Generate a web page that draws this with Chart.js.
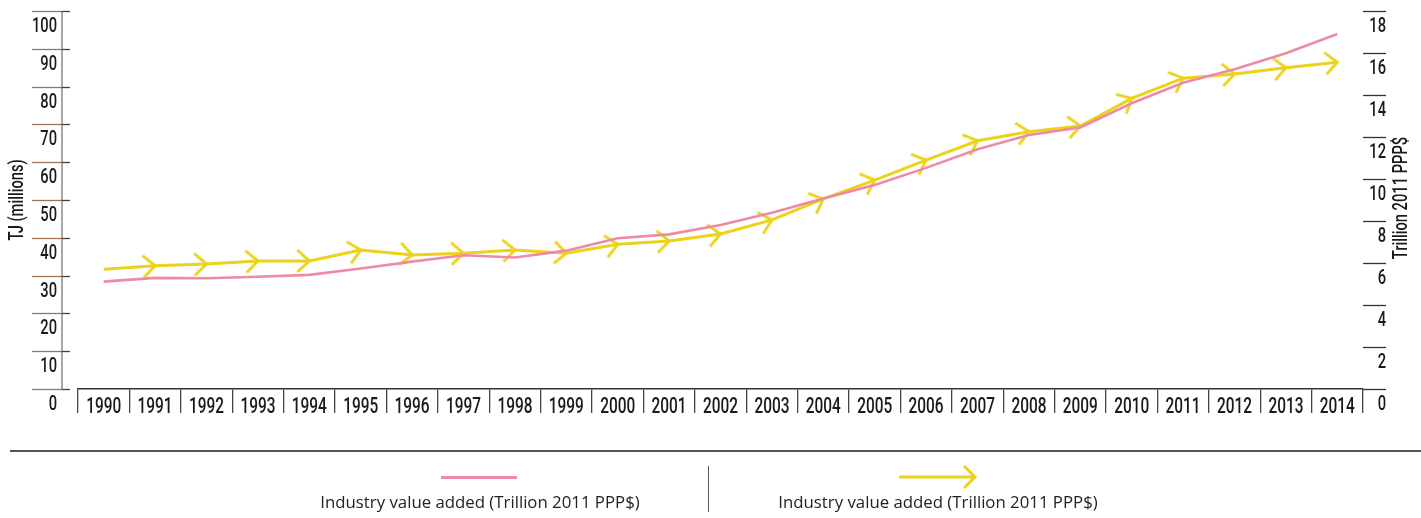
<!DOCTYPE html>
<html>
<head>
<meta charset="utf-8">
<script src="https://cdn.jsdelivr.net/npm/chart.js@4/dist/chart.umd.min.js"></script>
<style>
  html, body { margin: 0; padding: 0; background: #fff; }
  #wrap { position: relative; width: 1421px; height: 518px; overflow: hidden; }
  #c { position: absolute; left: 0; top: 0; }
  .lg-text { position: absolute; font-family: 'Open Sans', 'Noto Sans', sans-serif; font-size: 16.8px; line-height: 16.8px; color: #222; white-space: nowrap; transform: translateX(-50%); }
  #sep { position: absolute; left: 10px; top: 450px; width: 1411px; height: 0; border-top: 2px solid #555; }
  #div { position: absolute; left: 708px; top: 466px; width: 0; height: 46px; border-left: 1.5px solid #555; }
  #pinkSym { position: absolute; left: 441px; top: 476px; width: 76px; height: 3px; background: #ee8aa5; }
  #yelSym { position: absolute; left: 897px; top: 464px; }
</style>
</head>
<body>
<div id="wrap">
  <canvas id="c" width="1421" height="518"></canvas>
  <div id="sep"></div>
  <div id="pinkSym"></div>
  <div class="lg-text" id="lg1" style="left:480px; top:494px;"></div>
  <div id="div"></div>
  <svg id="yelSym" width="82" height="26" viewBox="0 0 82 26">
    <line x1="2" y1="13" x2="78" y2="13" stroke="#ecd31a" stroke-width="3"/>
    <polyline points="67,2 78,13 67,24" fill="none" stroke="#ecd31a" stroke-width="3"/>
  </svg>
  <div class="lg-text" id="lg2" style="left:938px; top:494px;"></div>
</div>
<script>
const years = ['1990','1991','1992','1993','1994','1995','1996','1997','1998','1999','2000','2001','2002','2003','2004','2005','2006','2007','2008','2009','2010','2011','2012','2013','2014'];
// Pink series, left axis (TJ millions)
const seriesPink = [28.4, 29.4, 29.3, 29.7, 30.2, 31.9, 33.7, 35.4, 34.8, 36.6, 39.9, 40.9, 43.4, 46.6, 50.4, 54.0, 58.5, 63.4, 67.2, 69.2, 75.6, 81.0, 84.6, 88.8, 93.9];
// Yellow series, right axis (Trillion 2011 PPP$)
const seriesYellow = [5.70, 5.87, 5.95, 6.10, 6.10, 6.62, 6.38, 6.46, 6.62, 6.46, 6.89, 7.05, 7.38, 8.05, 9.05, 9.95, 10.90, 11.82, 12.25, 12.52, 13.84, 14.80, 15.00, 15.30, 15.56];
const seriesLabels = ['Industry value added (Trillion 2011 PPP$)', 'Industry value added (Trillion 2011 PPP$)'];
const leftTitle = 'TJ (millions)';
const rightTitle = 'Trillion 2011 PPP$';

document.getElementById('lg1').textContent = seriesLabels[0];
document.getElementById('lg2').textContent = seriesLabels[1];

const PINK = '#ee8aa5';
const YELLOW = '#ecd31a';
const TXT = '#1a1a1a';
const FAM = "Roboto, 'DejaVu Sans', sans-serif";
const SX = 0.70; // horizontal condensing of axis text

// chevron marker image, tip at the centre
const chev = document.createElement('canvas');
chev.width = 36; chev.height = 36;
(function(){
  const g = chev.getContext('2d');
  g.strokeStyle = YELLOW; g.lineWidth = 3; g.lineCap = 'butt'; g.lineJoin = 'miter';
  g.beginPath(); g.moveTo(18 - 12, 18 - 11); g.lineTo(18, 18); g.lineTo(18 - 12, 18 + 11); g.stroke();
})();

function condText(ctx, text, x, y, align, rot) {
  ctx.save();
  ctx.translate(x, y);
  if (rot) ctx.rotate(rot);
  ctx.scale(SX, 1);
  ctx.textAlign = align;
  ctx.fillText(text, 0, 0);
  ctx.restore();
}

const axisDeco = {
  id: 'axisDeco',
  afterDraw(chart) {
    const ctx = chart.ctx;
    const y = chart.scales.y, y1 = chart.scales.y1, x = chart.scales.x;
    const ca = chart.chartArea;
    ctx.save();
    // left axis line
    const lx = ca.left - 16;
    ctx.strokeStyle = '#888'; ctx.lineWidth = 1.5;
    ctx.beginPath(); ctx.moveTo(lx, y.getPixelForValue(100)); ctx.lineTo(lx, y.getPixelForValue(0)); ctx.stroke();
    // left ticks + labels
    ctx.fillStyle = TXT;
    ctx.font = "500 21px " + FAM;
    ctx.textBaseline = 'alphabetic';
    y.ticks.forEach(t => {
      const py = Math.round(y.getPixelForValue(t.value)) + 0.5;
      ctx.strokeStyle = '#a3714d'; ctx.lineWidth = 1.3;
      ctx.beginPath(); ctx.moveTo(lx - 30, py); ctx.lineTo(lx, py); ctx.stroke();
      ctx.strokeStyle = '#444';
      ctx.beginPath(); ctx.moveTo(lx, py); ctx.lineTo(lx + 8, py); ctx.stroke();
      condText(ctx, t.label != null ? String(t.label) : String(t.value), lx - 5, py + 20, 'right');
    });
    // right ticks + labels
    y1.ticks.forEach(t => {
      const py = Math.round(y1.getPixelForValue(t.value)) + 0.5;
      ctx.strokeStyle = '#333'; ctx.lineWidth = 1.3;
      ctx.beginPath(); ctx.moveTo(ca.right, py); ctx.lineTo(ca.right + 23, py); ctx.stroke();
      condText(ctx, t.label != null ? String(t.label) : String(t.value), ca.right + 23, py + 20, 'right');
    });
    // x labels
    ctx.font = "500 22px " + FAM;
    x.ticks.forEach((t, i) => {
      const px = x.getPixelForValue(t.value);
      condText(ctx, x.getLabelForValue(t.value), px, ca.bottom + 24, 'center');
    });
    // titles
    ctx.font = "500 21px " + FAM;
    ctx.textBaseline = 'middle';
    const cy = (ca.top + ca.bottom) / 2;
    condText(ctx, leftTitle, 18, cy, 'center', -Math.PI / 2);
    condText(ctx, rightTitle, ca.right + 39, cy - 2, 'center', -Math.PI / 2);
    ctx.restore();
  }
};

new Chart(document.getElementById('c'), {
  type: 'line',
  data: {
    labels: years,
    datasets: [
      {
        label: seriesLabels[0],
        data: seriesPink,
        yAxisID: 'y',
        borderColor: PINK,
        backgroundColor: PINK,
        borderWidth: 2.6,
        tension: 0,
        pointRadius: 0,
        order: 0
      },
      {
        label: seriesLabels[1],
        data: seriesYellow,
        yAxisID: 'y1',
        borderColor: YELLOW,
        backgroundColor: YELLOW,
        borderWidth: 3,
        tension: 0,
        pointStyle: chev,
        pointRadius: (c) => c.dataIndex === 0 ? 0 : 6,
        pointRotation: (c) => {
          const i = c.dataIndex;
          if (i === 0) return 0;
          const xs = c.chart.scales.x, ys = c.chart.scales.y1;
          if (!xs || !ys) return 0;
          const dx = xs.getPixelForValue(i) - xs.getPixelForValue(i - 1);
          const dy = ys.getPixelForValue(seriesYellow[i]) - ys.getPixelForValue(seriesYellow[i - 1]);
          return Math.atan2(dy, dx) * 180 / Math.PI;
        },
        order: 1
      }
    ]
  },
  options: {
    responsive: false,
    animation: false,
    devicePixelRatio: 1,
    layout: { padding: { top: 11, left: 0, right: 0, bottom: 0 } },
    plugins: { legend: { display: false }, tooltip: { enabled: false } },
    scales: {
      x: {
        type: 'category',
        offset: true,
        grid: { offset: true, drawOnChartArea: false, drawTicks: true, tickLength: 24, color: '#444', lineWidth: 1.3 },
        border: { display: true, color: '#333', width: 1.5 },
        ticks: { display: false, autoSkip: false, maxRotation: 0 },
        afterFit(s) { s.height = 129; s.paddingLeft = 0; s.paddingRight = 0; }
      },
      y: {
        position: 'left',
        min: 0, max: 100,
        grid: { display: false, drawTicks: false },
        border: { display: false },
        ticks: { display: false, stepSize: 10 },
        afterFit(s) { s.width = 78; s.paddingTop = 0; s.paddingBottom = 0; }
      },
      y1: {
        position: 'right',
        min: 0, max: 18,
        grid: { display: false, drawTicks: false },
        border: { display: false },
        ticks: { display: false, stepSize: 2 },
        afterFit(s) { s.width = 58; s.paddingTop = 0; s.paddingBottom = 0; }
      }
    }
  },
  plugins: [axisDeco]
});
</script>
</body>
</html>
